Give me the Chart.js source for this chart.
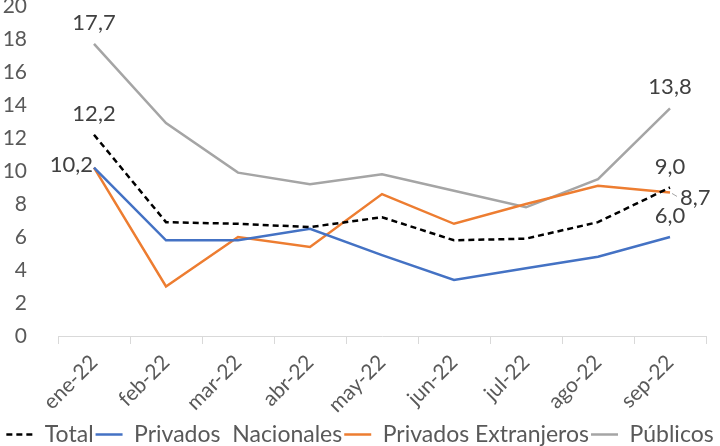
<!DOCTYPE html>
<html>
<head>
<meta charset="utf-8">
<script src="https://cdn.jsdelivr.net/npm/chart.js@4.4.1/dist/chart.umd.min.js"></script>
<style>
  html, body { margin: 0; padding: 0; background: #fff; }
  #wrap { width: 720px; height: 446px; }
</style>
</head>
<body>
<div id="wrap"><canvas id="chart" width="720" height="446"></canvas></div>
<script>
// Chart data
const months = ['ene-22', 'feb-22', 'mar-22', 'abr-22', 'may-22', 'jun-22', 'jul-22', 'ago-22', 'sep-22'];
const total = [12.2, 6.9, 6.8, 6.6, 7.2, 5.8, 5.9, 6.9, 9.0];
const privadosNacionales = [10.2, 5.8, 5.8, 6.5, 4.9, 3.4, 4.1, 4.8, 6.0];
const privadosExtranjeros = [10.2, 3.0, 6.0, 5.4, 8.6, 6.8, 8.0, 9.1, 8.7];
const publicos = [17.7, 12.9, 9.9, 9.2, 9.8, 8.8, 7.8, 9.5, 13.8];
const yTicks = [0, 2, 4, 6, 8, 10, 12, 14, 16, 18, 20];

const FONT = "Lato, 'Open Sans', sans-serif";
const TEXT_COLOR = '#595959';

// Which point labels to draw: [dataset, index, placement]
const pointLabels = [
    { ds: 3, i: 0, pos: 'above' },
    { ds: 0, i: 0, pos: 'above' },
    { ds: 1, i: 0, pos: 'left' },
    { ds: 3, i: 8, pos: 'above' },
    { ds: 0, i: 8, pos: 'above' },
    { ds: 1, i: 8, pos: 'above' },
    { ds: 2, i: 8, pos: 'right' }
];

function fmt(v) {
    return v.toFixed(1).replace('.', ',');
}

// Draw value labels for first and last points
const valueLabels = {
    id: 'valueLabels',
    afterDatasetsDraw(chart) {
        const ctx = chart.ctx;
        ctx.save();
        ctx.font = '22px ' + FONT;
        ctx.fillStyle = '#404040';
        pointLabels.forEach(l => {
            const el = chart.getDatasetMeta(l.ds).data[l.i];
            const v = chart.data.datasets[l.ds].data[l.i];
            const text = fmt(v);
            if (l.pos === 'above') {
                ctx.textAlign = 'center';
                ctx.textBaseline = 'middle';
                ctx.fillText(text, el.x, el.y - 21);
            } else if (l.pos === 'left') {
                ctx.textAlign = 'right';
                ctx.textBaseline = 'middle';
                ctx.fillText(text, el.x - 1, el.y - 3);
            } else {
                // small leader line then text
                ctx.strokeStyle = '#a5a5a5';
                ctx.lineWidth = 1;
                ctx.beginPath();
                ctx.moveTo(el.x + 2, el.y + 1);
                ctx.lineTo(el.x + 7, el.y + 4);
                ctx.stroke();
                ctx.textAlign = 'left';
                ctx.textBaseline = 'middle';
                ctx.fillText(text, el.x + 10, el.y + 5);
            }
        });
        ctx.restore();
    }
};

const ctx = document.getElementById('chart').getContext('2d');
const chart = new Chart(ctx, {
    type: 'line',
    data: {
        labels: months,
        datasets: [
            {
                label: 'Total',
                data: total,
                borderColor: '#000000',
                backgroundColor: '#000000',
                borderWidth: 2.5,
                borderDash: [6, 4],
                pointRadius: 0,
                tension: 0
            },
            {
                label: 'Privados  Nacionales',
                data: privadosNacionales,
                borderColor: '#4472C4',
                backgroundColor: '#4472C4',
                borderWidth: 2.5,
                pointRadius: 0,
                tension: 0
            },
            {
                label: 'Privados Extranjeros',
                data: privadosExtranjeros,
                borderColor: '#ED7D31',
                backgroundColor: '#ED7D31',
                borderWidth: 2.5,
                pointRadius: 0,
                tension: 0
            },
            {
                label: 'Públicos',
                data: publicos,
                borderColor: '#A5A5A5',
                backgroundColor: '#A5A5A5',
                borderWidth: 2.5,
                pointRadius: 0,
                tension: 0
            }
        ]
    },
    options: {
        responsive: false,
        animation: false,
        layout: {
            padding: { top: 0, left: 0, right: 0, bottom: -10 }
        },
        plugins: {
            legend: {
                display: true,
                position: 'bottom',
                labels: {
                    usePointStyle: true,
                    pointStyle: 'line',
                    pointStyleWidth: 27,
                    boxHeight: 2,
                    color: TEXT_COLOR,
                    padding: 2,
                    font: { size: 23, family: FONT },
                    generateLabels(chart) {
                        const items = Chart.defaults.plugins.legend.labels.generateLabels(chart);
                        items.forEach(item => {
                            const ds = chart.data.datasets[item.datasetIndex];
                            item.lineDash = ds.borderDash || [];
                            item.lineWidth = ds.borderWidth;
                            item.strokeStyle = ds.borderColor;
                        });
                        return items;
                    }
                }
            },
            tooltip: { enabled: false }
        },
        scales: {
            x: {
                offset: true,
                afterFit(scale) {
                    scale.paddingRight = 14;
                    scale.height = 85;
                },
                grid: {
                    offset: true,
                    drawOnChartArea: false,
                    drawTicks: true,
                    tickLength: 8,
                    color: '#d9d9d9'
                },
                border: { display: true, color: '#d9d9d9', width: 1 },
                ticks: {
                    color: TEXT_COLOR,
                    minRotation: 45,
                    maxRotation: 45,
                    autoSkip: false,
                    padding: 6,
                    font: { size: 21, family: FONT }
                }
            },
            y: {
                min: 0,
                max: 20,
                afterBuildTicks(scale) {
                    scale.ticks = yTicks.map(v => ({ value: v }));
                },
                afterFit(scale) {
                    scale.width = 58;
                    scale.paddingTop = 6;
                    scale.paddingBottom = 0;
                },
                grid: { display: false },
                border: { display: false },
                ticks: {
                    color: TEXT_COLOR,
                    autoSkip: false,
                    padding: 23,
                    font: { size: 21, family: FONT }
                }
            }
        }
    },
    plugins: [valueLabels]
});
</script>
</body>
</html>
